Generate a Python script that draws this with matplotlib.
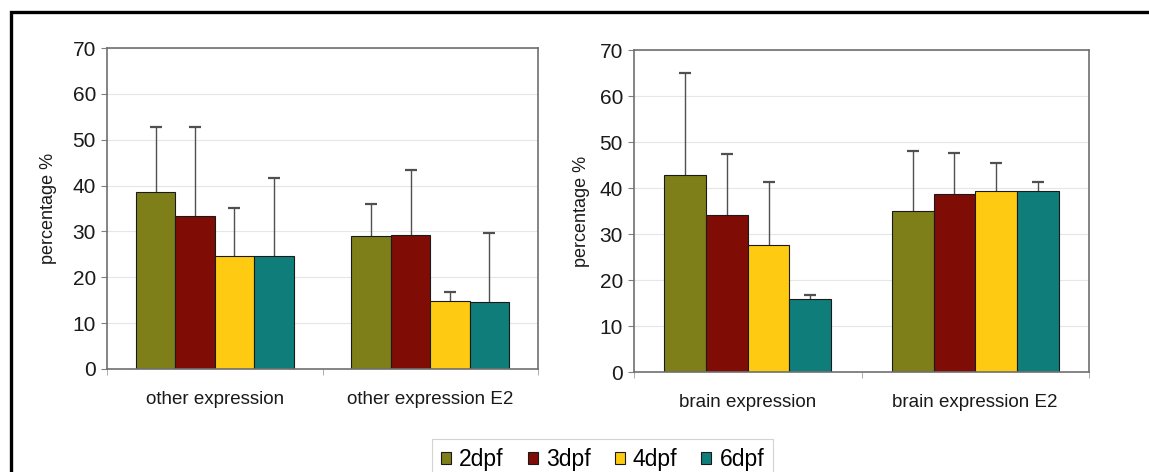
import matplotlib
matplotlib.use('Agg')
import matplotlib.pyplot as plt
import numpy as np
from matplotlib.patches import Rectangle

plt.rcParams['font.family'] = ['Liberation Sans', 'DejaVu Sans']

stages = ["2dpf", "3dpf", "4dpf", "6dpf"]
colors = ["#7f7f1a", "#800c06", "#fecb12", "#0f7e7a"]

other_cats = ["other expression", "other expression E2"]
other_mean = {
    "2dpf": [38.5, 28.9],
    "3dpf": [33.4, 29.2],
    "4dpf": [24.6, 14.9],
    "6dpf": [24.7, 14.6],
}
other_err = {
    "2dpf": [14.3, 7.1],
    "3dpf": [19.4, 14.3],
    "4dpf": [10.6, 2.0],
    "6dpf": [16.9, 15.0],
}

brain_cats = ["brain expression", "brain expression E2"]
brain_mean = {
    "2dpf": [42.8, 34.9],
    "3dpf": [34.1, 38.6],
    "4dpf": [27.6, 39.3],
    "6dpf": [15.9, 39.3],
}
brain_err = {
    "2dpf": [22.1, 13.2],
    "3dpf": [13.3, 9.1],
    "4dpf": [13.7, 6.1],
    "6dpf": [0.8, 2.0],
}

fig = plt.figure(figsize=(11.49, 4.72), dpi=100)
W, H = 1149, 472


def panel(rect, cats, means, errs, ylab_x):
    x0, y0, x1, y1 = rect
    ax = fig.add_axes([x0 / W, (H - y1) / H, (x1 - x0) / W, (y1 - y0) / H])
    x = np.arange(len(cats))
    bw = 0.183
    for i, s in enumerate(stages):
        pos = x + (i - 1.5) * bw
        m = np.array(means[s])
        top = m + np.array(errs[s])
        ax.bar(pos, m, bw, color=colors[i], edgecolor="#1a1a1a",
               linewidth=0.8, zorder=2, label=s)
        # upper error bars only
        ax.vlines(pos, m, top, color="#505050", linewidth=1.0, zorder=1.5)
        ax.plot(pos, top, ls="none", marker="_", ms=8, mew=1.6,
                color="#505050", zorder=3)
    ax.set_xlim(-0.5, len(cats) - 0.5)
    ax.set_ylim(0, 70)
    ax.set_yticks(range(0, 71, 10))
    ax.yaxis.grid(True, color="#e6e6e6", linewidth=0.8, zorder=0)
    ax.set_axisbelow(True)
    ax.set_xticks(x)
    ax.set_xticklabels(cats, fontsize=13.5, color="#1a1a1a")
    ax.tick_params(axis="x", length=0, pad=16)
    ax.set_xticks(np.arange(-0.5, len(cats), 1.0), minor=True)
    ax.tick_params(axis="x", which="minor", length=4, color="#a0a0a0",
                   direction="out")
    ax.tick_params(axis="y", length=4, color="#808080", labelsize=15,
                   labelcolor="#1a1a1a", pad=4)
    for sp in ax.spines.values():
        sp.set_color("#707070")
        sp.set_linewidth(1.2)
    ax.set_ylabel("percentage %", fontsize=13, color="#1a1a1a")
    ax.yaxis.set_label_coords(ylab_x, 0.5)
    return ax


ax1 = panel((107, 48, 538, 369), other_cats, other_mean, other_err, -0.116)
ax2 = panel((634, 50, 1089, 372), brain_cats, brain_mean, brain_err, -0.097)

handles, labels = ax1.get_legend_handles_labels()
leg = fig.legend(handles, labels, loc="upper center",
                 bbox_to_anchor=(602.5 / W, (H - 439) / H), ncol=4,
                 fontsize=16.5, frameon=True, fancybox=False,
                 handlelength=0.44, handleheight=0.44, handletextpad=0.35,
                 columnspacing=1.05, borderpad=0.4, borderaxespad=0)
leg.get_frame().set_edgecolor("#c8c8c8")
leg.get_frame().set_linewidth(0.8)

# heavy outer border
fig.patches.append(Rectangle((11 / W, -0.2), 1.5, (H - 12) / H + 0.2,
                             transform=fig.transFigure, fill=False,
                             edgecolor="black", linewidth=2.4, zorder=10))

fig.savefig("out.png", dpi=100)
